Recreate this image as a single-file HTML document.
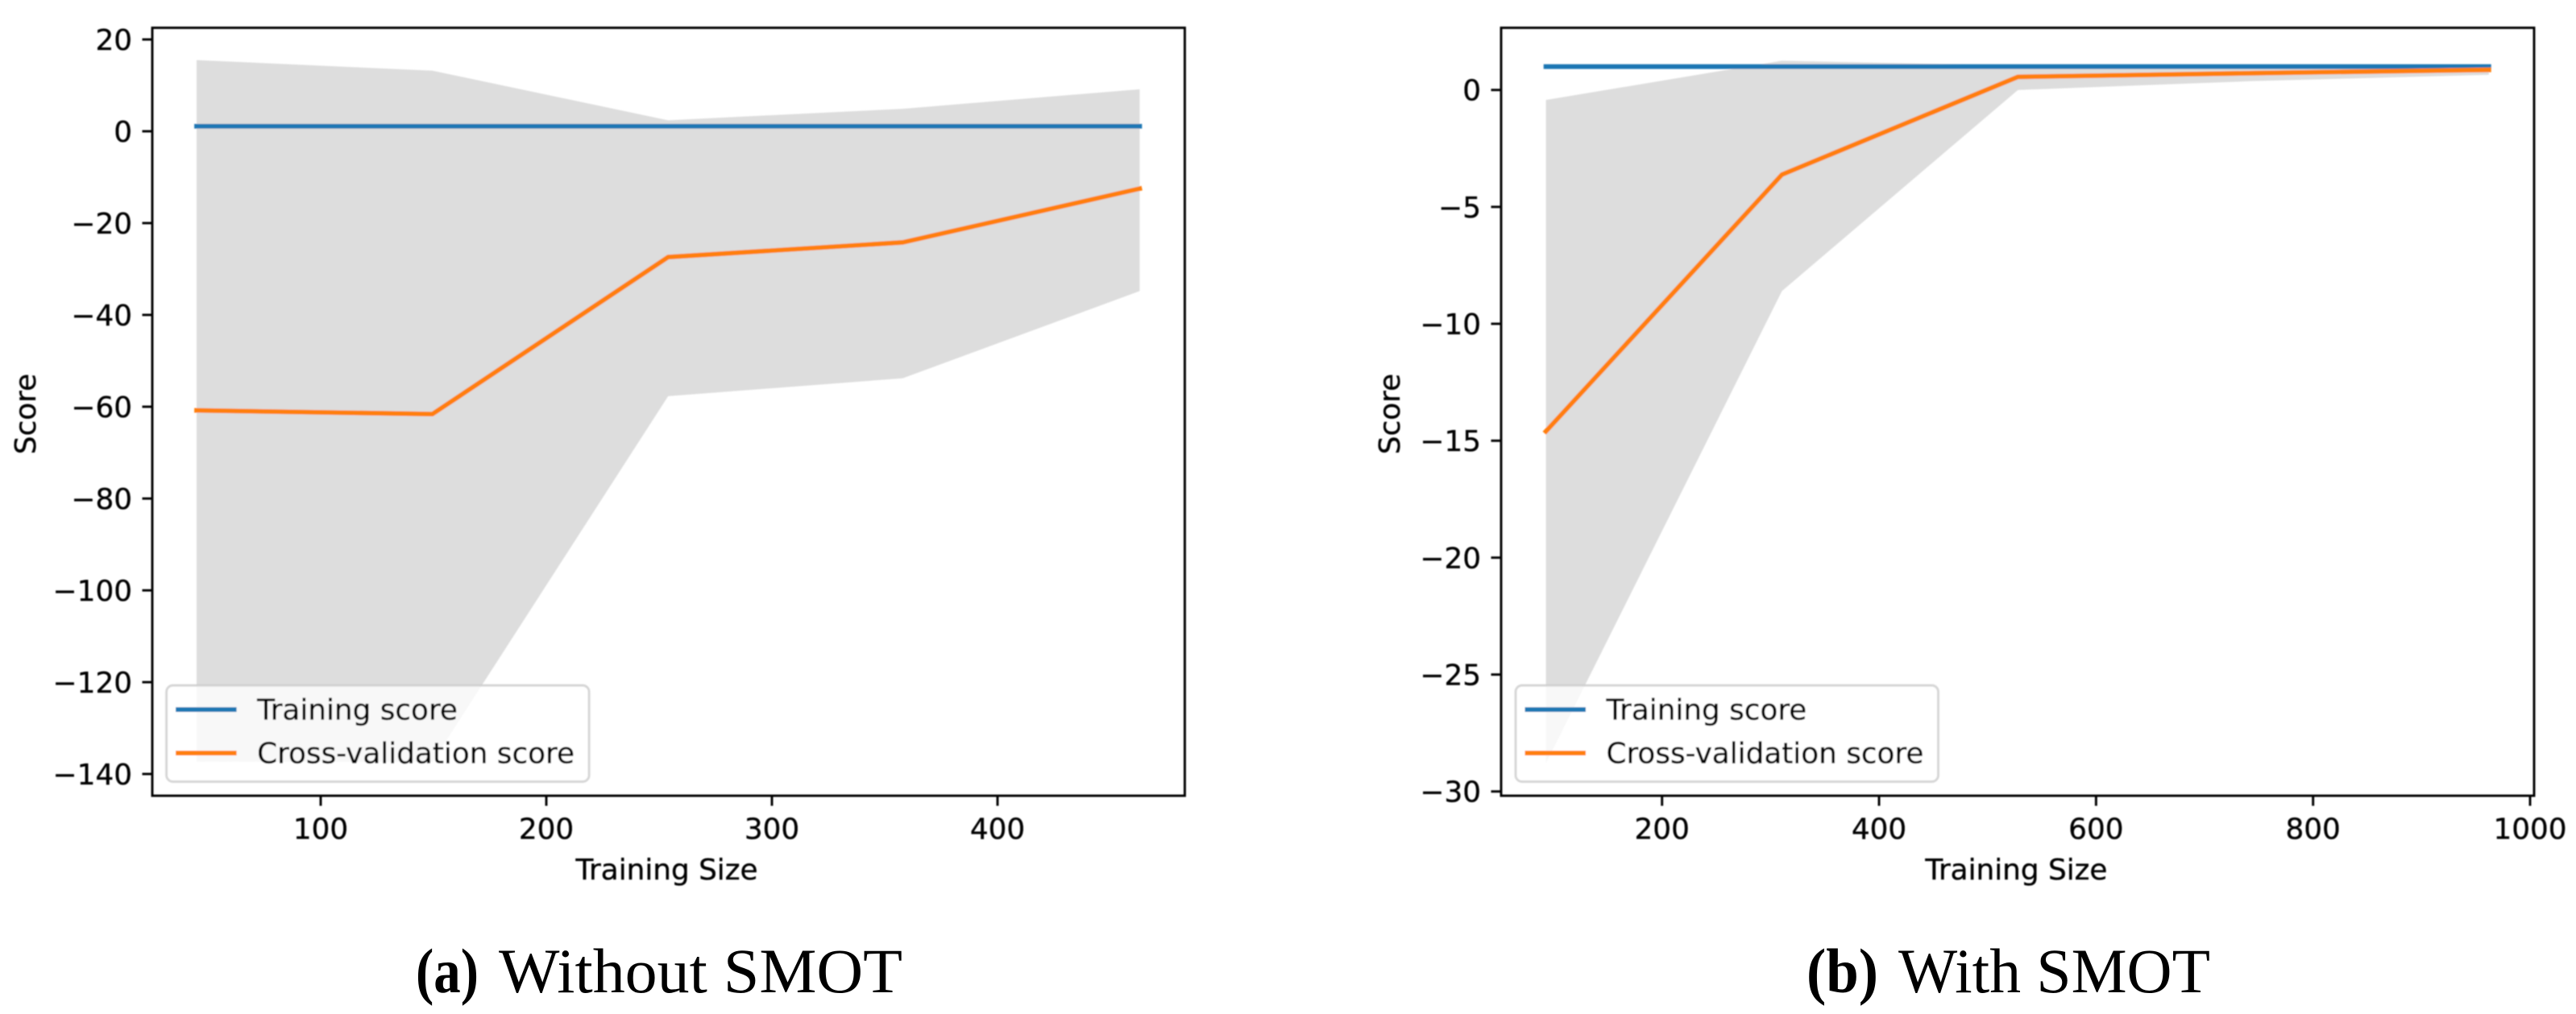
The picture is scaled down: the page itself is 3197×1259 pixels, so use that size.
<!DOCTYPE html>
<html lang="en">
<head>
<meta charset="utf-8">
<title>Learning curves without and with SMOT</title>
<style>
html,body{margin:0;padding:0;background:#fff;width:3197px;height:1259px;overflow:hidden}
svg{display:block}
.dv{font-family:"DejaVu Sans","Liberation Sans",sans-serif;font-size:35.8px;fill:#000;stroke:#000;stroke-width:0.35px}
.cap{font-family:"Liberation Serif",serif;font-size:78px;fill:#000}
</style>
</head>
<body>
<svg id="figure" xmlns="http://www.w3.org/2000/svg" width="3197" height="1259" viewBox="0 0 3197 1259">
  <defs>
    <filter id="soft" filterUnits="userSpaceOnUse" x="0" y="0" width="3197" height="1259">
      <feGaussianBlur stdDeviation="0.8"/>
    </filter>
  </defs>
  <g id="chart-a" filter="url(#soft)"></g>
  <g id="chart-b" filter="url(#soft)"></g>

  <text class="cap" x="516" y="1232" font-weight="bold" textLength="78" lengthAdjust="spacingAndGlyphs">(a)</text>
  <text class="cap" x="619" y="1232" textLength="501" lengthAdjust="spacingAndGlyphs">Without SMOT</text>
  <text class="cap" x="2242" y="1232" font-weight="bold" textLength="89" lengthAdjust="spacingAndGlyphs">(b)</text>
  <text class="cap" x="2356" y="1232" textLength="387" lengthAdjust="spacingAndGlyphs">With SMOT</text>
</svg>

<script>
// Panel (a): without SMOT
const sizesA = [45, 149.5, 254, 358, 463];
const trainA = [1.1, 1.1, 1.1, 1.1, 1.1];
const crossA = [-60.8, -61.6, -27.4, -24.2, -12.5];
const upperA = [15.5, 13.2, 2.4, 4.9, 9.15];
const lowerA = [-137.3, -137.4, -57.7, -53.8, -34.8];
const xTicksA = [100, 200, 300, 400];
const yTicksA = [20, 0, -20, -40, -60, -80, -100, -120, -140];

// Panel (b): with SMOT
const sizesB = [93, 310.5, 528, 745, 962];
const trainB = [1.0, 1.0, 1.0, 1.0, 1.0];
const crossB = [-14.6, -3.62, 0.56, 0.72, 0.86];
const upperB = [-0.43, 1.25, 1.05, 1.02, 1.0];
const lowerB = [-28.8, -8.6, 0.0, 0.38, 0.65];
const xTicksB = [200, 400, 600, 800, 1000];
const yTicksB = [0, -5, -10, -15, -20, -25, -30];

const SVGNS = 'http://www.w3.org/2000/svg';

function linear(v0, p0, v1, p1) {
  return function (v) { return p0 + (v - v0) * (p1 - p0) / (v1 - v0); };
}

function make(parent, tag, attrs, text) {
  const node = document.createElementNS(SVGNS, tag);
  for (const key in attrs) node.setAttribute(key, attrs[key]);
  if (text !== undefined) node.textContent = text;
  parent.appendChild(node);
  return node;
}

function fmt(v) {
  return v < 0 ? '\u2212' + Math.abs(v) : String(v);
}

function drawChart(parent, box, x, y, sizes, train, cross, upper, lower, xTicks, yTicks, labels) {
  const up = sizes.map(function (s, i) { return x(s) + ',' + y(upper[i]); });
  const low = sizes.map(function (s, i) { return x(s) + ',' + y(lower[i]); }).reverse();

  const band = make(parent, 'polygon', { points: up.concat(low).join(' '), fill: '#dddddd' });
  
  

  const trainLine = make(parent, 'polyline', {
    points: sizes.map(function (s, i) { return x(s) + ',' + y(train[i]); }).join(' '),
    fill: 'none', stroke: '#1f77b4', 'stroke-width': 5.8, 'stroke-linecap': 'square', 'stroke-linejoin': 'round'
  });
  
  

  const crossLine = make(parent, 'polyline', {
    points: sizes.map(function (s, i) { return x(s) + ',' + y(cross[i]); }).join(' '),
    fill: 'none', stroke: '#ff7f0e', 'stroke-width': 5.8, 'stroke-linecap': 'square', 'stroke-linejoin': 'round'
  });
  
  

  const frame = make(parent, 'rect', {
    x: box.left, y: box.top, width: box.right - box.left, height: box.bottom - box.top,
    fill: 'none', stroke: '#000', 'stroke-width': 2.9
  });
  
  

  xTicks.forEach(function (t) {
    const tick = make(parent, 'line', { x1: x(t), x2: x(t), y1: box.bottom, y2: box.bottom + 12.5, stroke: '#000', 'stroke-width': 2.9 });
    
    
    const label = make(parent, 'text', { x: x(t), y: 1041.5, 'text-anchor': 'middle', class: 'dv' }, fmt(t));
    
    
  });

  yTicks.forEach(function (t) {
    const tick = make(parent, 'line', { x1: box.left - 12.5, x2: box.left, y1: y(t), y2: y(t), stroke: '#000', 'stroke-width': 2.9 });
    
    
    const label = make(parent, 'text', { x: box.left - 25, y: y(t) + 13, 'text-anchor': 'end', class: 'dv' }, fmt(t));
    
    
  });

  const xTitle = make(parent, 'text', { x: labels.xTitleX, y: 1092, 'text-anchor': 'middle', class: 'dv' }, 'Training Size');
  
  

  const yTitle = make(parent, 'text', {
    x: labels.yTitleX, y: 514, 'text-anchor': 'middle', class: 'dv',
    transform: 'rotate(-90 ' + labels.yTitleX + ' 514)'
  }, 'Score');
  
  

  const legend = make(parent, 'g', {});
  
  

  const legendBox = make(legend, 'rect', {
    x: labels.legendX, y: 851, width: 524.5, height: 119.5, rx: 8, ry: 8,
    fill: '#fff', 'fill-opacity': 0.8, stroke: '#cccccc', 'stroke-opacity': 0.8, 'stroke-width': 2.9
  });
  
  

  const keyA = make(legend, 'line', { x1: labels.legendX + 11.5, x2: labels.legendX + 87, y1: 881, y2: 881, stroke: '#1f77b4', 'stroke-width': 5.8 });
  
  

  const textA = make(legend, 'text', { x: labels.legendX + 112.5, y: 893.5, class: 'dv' }, 'Training score');
  
  

  const keyB = make(legend, 'line', { x1: labels.legendX + 11.5, x2: labels.legendX + 87, y1: 935, y2: 935, stroke: '#ff7f0e', 'stroke-width': 5.8 });
  
  

  const textB = make(legend, 'text', { x: labels.legendX + 112.5, y: 947.5, class: 'dv' }, 'Cross-validation score');
  
  
}

drawChart(
  document.getElementById('chart-a'),
  { left: 189, right: 1470.4, top: 34.5, bottom: 988 },
  linear(100, 398, 400, 1238),
  linear(0, 163, -140, 961),
  sizesA, trainA, crossA, upperA, lowerA, xTicksA, yTicksA,
  { xTitleX: 827.5, yTitleX: 44, legendX: 206.6 }
);

drawChart(
  document.getElementById('chart-b'),
  { left: 1863, right: 3145, top: 34.5, bottom: 988 },
  linear(200, 2062.7, 1000, 3140),
  linear(0, 111.7, -30, 982.7),
  sizesB, trainB, crossB, upperB, lowerB, xTicksB, yTicksB,
  { xTitleX: 2502.4, yTitleX: 1737, legendX: 1881 }
);
</script>
</body>
</html>
